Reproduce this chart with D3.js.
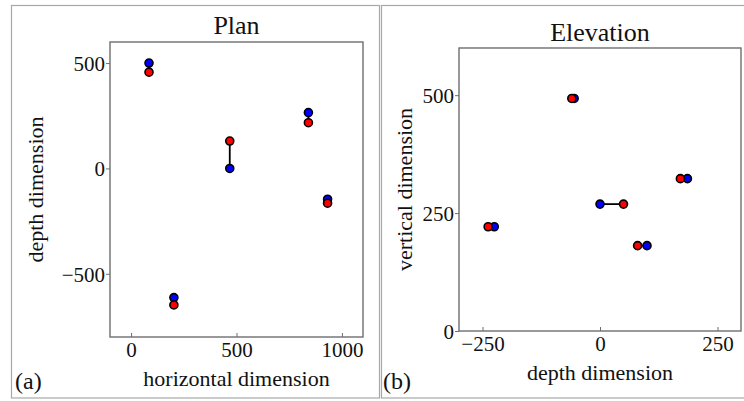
<!DOCTYPE html>
<html>
<head>
<meta charset="utf-8">
<script src="https://cdn.jsdelivr.net/npm/d3@7"></script>
<style>
  body { margin: 0; background: #fff; }
  svg text { font-family: "Liberation Serif", "DejaVu Serif", serif !important; fill: #111; }
</style>
</head>
<body>
<script>
// plan view: horizontal vs depth
var planBlue = [[85, 500], [203, -613], [468, 0], [841, 265], [932, -146]];
var planRed = [[85, 457], [203, -648], [468, 130], [841, 217], [932, -165]];
var planXTicks = [0, 500, 1000];
var planYTicks = [-500, 0, 500];

// elevation view: depth vs vertical
var elevBlue = [[-55, 493], [-225, 221], [0, 269], [100, 181], [186, 323]];
var elevRed = [[-60, 493], [-238, 221], [50, 269], [80, 181], [171, 323]];
var elevXTicks = [-250, 0, 250];
var elevYTicks = [0, 250, 500];

var width = 744, height = 401;
var fmt = function (v) { return v < 0 ? "\u2212" + Math.abs(v) : String(v); };

var svg = d3.select("body").append("svg")
    .attr("width", width)
    .attr("height", height);

// panel outlines
svg.append("rect").attr("x", 11.5).attr("y", 5.5).attr("width", 368).attr("height", 392.5)
    .attr("fill", "none").attr("stroke", "#a8a8a8").attr("stroke-width", 1.2);
svg.append("rect").attr("x", 381.5).attr("y", 5.5).attr("width", 370).attr("height", 392.5)
    .attr("fill", "none").attr("stroke", "#a8a8a8").attr("stroke-width", 1.2);

function drawPanel(opt) {
    var x = d3.scaleLinear().domain(opt.xDomain).range(opt.xRange);
    var y = d3.scaleLinear().domain(opt.yDomain).range(opt.yRange);
    var g = svg.append("g");

    // frame
    g.append("rect")
        .attr("x", opt.xRange[0]).attr("y", opt.yRange[1])
        .attr("width", opt.xRange[1] - opt.xRange[0])
        .attr("height", opt.yRange[0] - opt.yRange[1])
        .attr("fill", "none").attr("stroke", "#6e6e6e").attr("stroke-width", 1.4);

    var xAxis = g.append("g")
        .attr("transform", "translate(0," + opt.yRange[0] + ")")
        .call(d3.axisBottom(x).tickValues(opt.xTicks).tickFormat(fmt).tickSizeInner(-4).tickSizeOuter(0));
    xAxis.attr("font-family", null).attr("font-size", null);
    xAxis.select(".domain").remove();
    xAxis.selectAll("line").attr("stroke", "#6e6e6e");
    xAxis.selectAll("text").attr("y", 20).attr("dy", 0)
        .style("font-size", "21px").attr("fill", "#111");

    var yAxis = g.append("g")
        .attr("transform", "translate(" + opt.xRange[0] + ",0)")
        .call(d3.axisLeft(y).tickValues(opt.yTicks).tickFormat(fmt).tickSizeInner(4).tickSizeOuter(0).tickPadding(1));
    yAxis.attr("font-family", null).attr("font-size", null);
    yAxis.select(".domain").remove();
    yAxis.selectAll("line").attr("stroke", "#6e6e6e");
    yAxis.selectAll("text").attr("dy", "0.35em")
        .style("font-size", "21px").attr("fill", "#111");

    // title and axis labels
    var cx = (opt.xRange[0] + opt.xRange[1]) / 2;
    var cy = (opt.yRange[0] + opt.yRange[1]) / 2;
    g.append("text").attr("x", cx).attr("y", opt.titleY)
        .attr("text-anchor", "middle").style("font-size", "26px").text(opt.title);
    g.append("text").attr("x", cx).attr("y", opt.yRange[0] + 49)
        .attr("text-anchor", "middle").style("font-size", "22px").text(opt.xLabel);
    g.append("text")
        .attr("transform", "translate(" + opt.yLabelX + "," + cy + ") rotate(-90)")
        .attr("text-anchor", "middle").style("font-size", "22px").text(opt.yLabel);
    g.append("text").attr("x", opt.tagX).attr("y", 389)
        .style("font-size", "24px").text(opt.tag);

    // connectors
    g.selectAll(".link").data(d3.zip(opt.blue, opt.red)).enter().append("line")
        .attr("x1", function (d) { return x(d[0][0]); })
        .attr("y1", function (d) { return y(d[0][1]); })
        .attr("x2", function (d) { return x(d[1][0]); })
        .attr("y2", function (d) { return y(d[1][1]); })
        .attr("stroke", "#000").attr("stroke-width", 1.8);

    g.selectAll(".blue").data(opt.blue).enter().append("circle")
        .attr("cx", function (d) { return x(d[0]); })
        .attr("cy", function (d) { return y(d[1]); })
        .attr("r", 4).attr("fill", "#0000ff").attr("stroke", "#000").attr("stroke-width", 1.6);

    g.selectAll(".red").data(opt.red).enter().append("circle")
        .attr("cx", function (d) { return x(d[0]); })
        .attr("cy", function (d) { return y(d[1]); })
        .attr("r", 4).attr("fill", "#ff0000").attr("stroke", "#000").attr("stroke-width", 1.6);
}

drawPanel({
    xDomain: [-100, 1100], xRange: [110, 363],
    yDomain: [-800, 600], yRange: [337, 42],
    xTicks: planXTicks, yTicks: planYTicks,
    blue: planBlue, red: planRed,
    title: "Plan", titleY: 34,
    xLabel: "horizontal dimension", yLabel: "depth dimension", yLabelX: 43,
    tag: "(a)", tagX: 15
});

drawPanel({
    xDomain: [-300, 300], xRange: [459, 741],
    yDomain: [0, 600], yRange: [331, 48],
    xTicks: elevXTicks, yTicks: elevYTicks,
    blue: elevBlue, red: elevRed,
    title: "Elevation", titleY: 41,
    xLabel: "depth dimension", yLabel: "vertical dimension", yLabelX: 412,
    tag: "(b)", tagX: 383
});
</script>
</body>
</html>
